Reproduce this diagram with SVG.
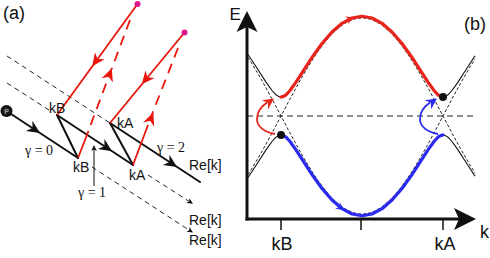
<svg xmlns="http://www.w3.org/2000/svg" width="490" height="258" viewBox="0 0 490 258">
<style>
.sans{font-family:"Liberation Sans",Arial,sans-serif;fill:#111}
.serif{font-family:"Liberation Serif","Times New Roman",serif;fill:#111}
.blk{stroke:#111;stroke-width:2;fill:none;stroke-linecap:round}
.dsh{stroke:#222;stroke-width:1;fill:none;stroke-dasharray:5 4}
.red{stroke:#e8160c;stroke-width:1.8;fill:none}
.redd{stroke:#e8160c;stroke-width:1.8;fill:none;stroke-dasharray:10 7}
.thin{stroke:#111;stroke-width:1.1;fill:none;stroke-linejoin:round}
.tdash{stroke:#222;stroke-width:1;fill:none;stroke-dasharray:3 2}
.rb{stroke:#e8241c;stroke-width:3.2;fill:none;stroke-linejoin:round;stroke-linecap:round}
.bb{stroke:#2a2af0;stroke-width:3.2;fill:none;stroke-linejoin:round;stroke-linecap:round}
</style>
<defs>
<path id="ahB" d="M0,0 L-13,-6 L-9,0 L-13,6 Z"/>
<path id="ahR" d="M0,0 L-13,-6 L-9,0 L-13,6 Z"/>
<path id="ahS" d="M0,0 L-6,-2.8 L-4.5,0 L-6,2.8 Z"/>
<path id="ahM" d="M0,0 L-11,-5.5 L-7.5,0 L-11,5.5 Z"/>
<path id="ahT" d="M0,0 L-8,-4 L-5.5,0 L-8,4 Z"/>
<radialGradient id="ball" cx="0.5" cy="0.45" r="0.6">
<stop offset="0" stop-color="#333"/><stop offset="1" stop-color="#000"/>
</radialGradient>
</defs>

<!-- Panel (a) -->
<text class="sans" x="3" y="19" font-size="18">(a)</text>

<g id="connectors">
  <!-- dashed axis parts -->
  <line class="dsh" x1="7" y1="56" x2="110" y2="123"/>
  <line class="dsh" x1="7" y1="83" x2="52" y2="112"/>
  <line class="dsh" x1="148" y1="175" x2="189" y2="201.3"/>
  <line class="dsh" x1="92" y1="167" x2="189" y2="230"/>
  <use href="#ahS" transform="translate(193,203.8) rotate(33)" fill="#111"/>
  <use href="#ahS" transform="translate(193,232.6) rotate(33)" fill="#111"/>
  <!-- solid path -->
  <line class="blk" x1="6.5" y1="111" x2="78" y2="158"/>
  <line class="blk" x1="78" y1="158" x2="57" y2="115"/>
  <line class="blk" x1="57" y1="115" x2="133" y2="165"/>
  <line class="blk" x1="133" y1="165" x2="110" y2="123"/>
  <line class="blk" x1="110" y1="123" x2="200" y2="182"/>
  <use href="#ahB" transform="translate(40,133) rotate(33.3)" fill="#111"/>
  <use href="#ahB" transform="translate(112,151.2) rotate(33.3)" fill="#111"/>
  <use href="#ahB" transform="translate(177,167) rotate(33.2)" fill="#111"/>
  <!-- red lines -->
  <line class="red" x1="137.5" y1="4" x2="57" y2="115"/>
  <line class="red" x1="184.5" y1="32.5" x2="110" y2="123"/>
  <line class="redd" x1="130" y1="20" x2="88" y2="132"/>
  <line class="red" x1="88.5" y1="131" x2="78" y2="158"/>
  <line class="redd" x1="178" y1="48" x2="147" y2="127"/>
  <line class="red" x1="148" y1="125" x2="133" y2="165"/>
  <use href="#ahR" transform="translate(92.2,66.2) rotate(125.8)" fill="#e8160c"/>
  <use href="#ahR" transform="translate(141.8,84.3) rotate(129.4)" fill="#e8160c"/>
  <use href="#ahR" transform="translate(111.8,68.3) rotate(-69.4)" fill="#e8160c"/>
  <use href="#ahR" transform="translate(153.3,112.4) rotate(-69)" fill="#e8160c"/>
  <!-- gamma = 1 pointer -->
  <line x1="94" y1="186" x2="94" y2="149" stroke="#111" stroke-width="1"/>
  <use href="#ahS" transform="translate(94,145) rotate(-90)" fill="#111"/>
</g>

<g id="P">
  <circle cx="6.5" cy="111" r="6" fill="url(#ball)"/>
  <text class="sans" x="6.5" y="113.5" font-size="7" font-weight="bold" text-anchor="middle" style="fill:#9a9a9a">P</text>
</g>
<g id="source1"><circle cx="137.5" cy="4" r="3" fill="#e0148c"/></g>
<g id="source2"><circle cx="184.5" cy="32.5" r="3" fill="#e0148c"/></g>
<g id="kB-top"><text class="sans" x="49" y="113" font-size="14">kB</text></g>
<g id="kA-top"><text class="sans" x="117" y="128" font-size="14">kA</text></g>
<g id="kB-bottom"><text class="sans" x="73" y="172" font-size="14">kB</text></g>
<g id="kA-bottom"><text class="sans" x="129" y="180" font-size="14">kA</text></g>
<g id="axis-labels">
  <text class="sans" x="189" y="170" font-size="14">Re[k]</text>
  <text class="sans" x="189" y="225" font-size="14">Re[k]</text>
  <text class="sans" x="189" y="245" font-size="14">Re[k]</text>
  <text class="serif" x="25" y="155" font-size="14">γ = 0</text>
  <text class="serif" x="78" y="197" font-size="14">γ = 1</text>
  <text class="serif" x="157" y="152" font-size="14">γ = 2</text>
</g>

<!-- Panel (b) -->
<g id="panel-b">
  <text class="sans" x="464" y="30" font-size="18">(b)</text>
  <text class="sans" x="229.5" y="20" font-size="17">E</text>
  <text class="sans" x="480" y="238" font-size="18">k</text>
  <text class="sans" x="282" y="250" font-size="18" text-anchor="middle">kB</text>
  <text class="sans" x="445" y="250" font-size="18" text-anchor="middle">kA</text>

  <line x1="247" y1="116" x2="475" y2="116" stroke="#222" stroke-width="1.1" stroke-dasharray="6 4"/>

  <path class="tdash" d="M248,57.5 C259,74.3 270,95.1 281,116 C307.4,166.2 332.7,214 362,214 C391.3,214 416.6,166.2 443,116 C453.7,95.7 464.3,75.6 475,59.1"/>
  <path class="tdash" d="M248,174.5 C259,157.7 270,136.9 281,116 C307.4,65.8 332.7,18 362,18 C391.3,18 416.6,65.8 443,116 C453.7,136.3 464.3,156.4 475,172.9"/>

  <polyline class="thin" points="248,54.5 254,63.5 260,72.8 266,82.1 272,90.5 276,94.8 278.5,96.4 281,97 283.5,96.4 286,94.8 290,90.5 296,82.1 302,72.8 312,57.4 322,43.5 332,32 342,23.3 352,18 362,16.2 372,18 382,23.3 392,32 402,43.5 412,57.4 422,72.8 428,82.1 434,90.5 438,94.8 440.5,96.4 443,97 445.5,96.4 448,94.8 452,90.5 458,82.1 464,72.8 470,63.5 475,55.9"/>
  <polyline class="thin" points="248,177.5 254,168.5 260,159.2 266,149.9 272,141.5 276,137.2 278.5,135.6 281,135 283.5,135.6 286,137.2 290,141.5 296,149.9 302,159.2 312,174.6 322,188.5 332,200 342,208.7 352,214 362,215.8 372,214 382,208.7 392,200 402,188.5 412,174.6 422,159.2 428,149.9 434,141.5 438,137.2 440.5,135.6 443,135 445.5,135.6 448,137.2 452,141.5 458,149.9 464,159.2 470,168.5 475,176.1"/>

  <polyline class="rb" points="281,97 283.5,96.4 286,94.8 290,90.5 296,82.1 302,72.8 312,57.4 322,43.5 332,32 342,23.3 352,18 362,16.2 372,18 382,23.3 392,32 402,43.5 412,57.4 422,72.8 428,82.1 434,90.5 438,94.8 440.5,96.4 443,97"/>
  <polyline class="bb" points="281,135 283.5,135.6 286,137.2 290,141.5 296,149.9 302,159.2 312,174.6 322,188.5 332,200 342,208.7 352,214 362,215.8 372,214 382,208.7 392,200 402,188.5 412,174.6 422,159.2 428,149.9 434,141.5 438,137.2 440.5,135.6 443,135"/>
  <use href="#ahT" transform="translate(354,17.4) rotate(-20)" fill="#e8241c"/>
  <use href="#ahT" transform="translate(344,210) rotate(35)" fill="#2a2af0"/>

  <path d="M275,134 C265,132 257,127 257,119 C257,111 262,106 267,102.5" stroke="#e8241c" stroke-width="1.8" fill="none"/>
  <use href="#ahM" transform="translate(274,98.5) rotate(-35)" fill="#e8241c"/>
  <path d="M438,134 C428,132 420,127 420,119 C420,111 425,106 430,102.5" stroke="#2a2af0" stroke-width="1.8" fill="none"/>
  <use href="#ahM" transform="translate(437,98.5) rotate(-35)" fill="#2a2af0"/>

  <circle cx="443" cy="97" r="4" fill="#111"/>
  <circle cx="281" cy="135" r="4" fill="#111"/>

  <line x1="247" y1="26" x2="247" y2="220.5" stroke="#111" stroke-width="3"/>
  <line x1="245.5" y1="219" x2="462" y2="219" stroke="#111" stroke-width="3"/>
  <path d="M247,11 L236.5,32 L247,27 L257.5,32 Z" fill="#111"/>
  <path d="M476,219 L454,208 L459,219 L454,230 Z" fill="#111"/>
  <line x1="281" y1="219" x2="281" y2="230" stroke="#111" stroke-width="1.5"/>
  <line x1="361" y1="219" x2="361" y2="230" stroke="#111" stroke-width="1.5"/>
  <line x1="443" y1="219" x2="443" y2="230" stroke="#111" stroke-width="1.5"/>
</g>
</svg>
